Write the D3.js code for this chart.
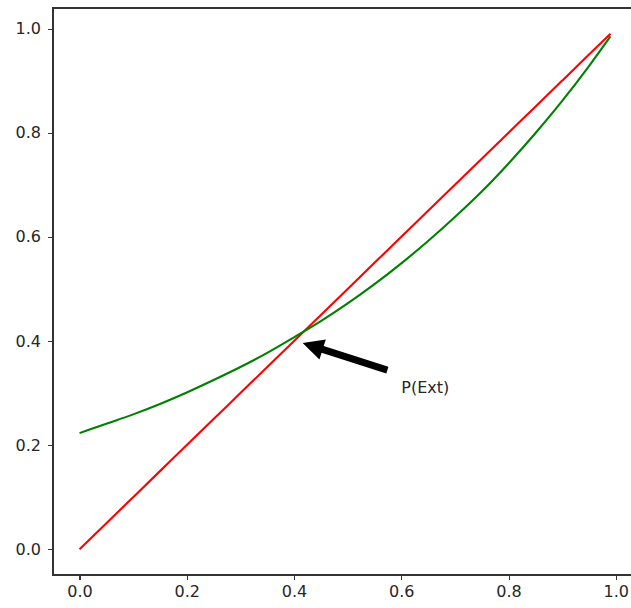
<!DOCTYPE html>
<meta charset="utf-8">
<style>
body { margin: 0; background: #fff; }
svg { display: block; }
.axis text { font: 16px "DejaVu Sans", sans-serif; fill: #262626; }
.axis line { stroke: #333; stroke-width: 1.1px; shape-rendering: crispEdges; }
.spine { stroke: #333; stroke-width: 1.1px; shape-rendering: crispEdges; }
.label { font: 16px "DejaVu Sans", sans-serif; fill: #262626; }
</style>
<body>
<svg id="chart" width="631" height="608"></svg>
<script src="https://cdn.jsdelivr.net/npm/d3@7"></script>
<script>

// s values on the x axis
var sValues = [0, 0.05, 0.1, 0.15, 0.2, 0.25, 0.3, 0.35, 0.4, 0.45, 0.5,
               0.55, 0.6, 0.65, 0.7, 0.75, 0.8, 0.85, 0.9, 0.95, 0.99];
// green curve
var genValues = [0.223, 0.241, 0.259, 0.279, 0.301, 0.325, 0.350, 0.377, 0.407, 0.438, 0.472,
                 0.509, 0.549, 0.592, 0.638, 0.687, 0.741, 0.799, 0.861, 0.928, 0.985];
// red line y = s
var diagValues = [0, 0.05, 0.1, 0.15, 0.2, 0.25, 0.3, 0.35, 0.4, 0.45, 0.5,
                  0.55, 0.6, 0.65, 0.7, 0.75, 0.8, 0.85, 0.9, 0.95, 0.99];

var xTicks = [0, 0.2, 0.4, 0.6, 0.8, 1.0];
var yTicks = [0, 0.2, 0.4, 0.6, 0.8, 1.0];

// annotation
var annotText = "P(Ext)";
var annotTextAt = [0.6, 0.3];
var arrowTip = [0.416, 0.396];
var arrowTail = [0.574, 0.344];

var svg = d3.select("#chart");
var mLeft = 53, mRight = 637, mTop = 8, mBottom = 575;

var x = d3.scaleLinear().domain([-0.0495, 1.0395]).range([mLeft, mRight]);
var y = d3.scaleLinear().domain([-0.0495, 1.0395]).range([mBottom, mTop]);

var line = d3.line().curve(d3.curveMonotoneX);

function series(ys) {
    return sValues.map(function(s, i) { return [x(s), y(ys[i])]; });
}

svg.append("path")
    .attr("d", line(series(diagValues)))
    .attr("fill", "none")
    .attr("stroke", "#ff0000")
    .attr("stroke-width", 2.1);

svg.append("path")
    .attr("d", line(series(genValues)))
    .attr("fill", "none")
    .attr("stroke", "#008000")
    .attr("stroke-width", 2.1);

// arrow
var tx = x(arrowTip[0]), ty = y(arrowTip[1]);
var bx = x(arrowTail[0]), by = y(arrowTail[1]);
var len = Math.hypot(tx - bx, ty - by);
var ux = (tx - bx) / len, uy = (ty - by) / len;
var px = -uy, py = ux;
var shaftW = 3.5, headW = 10.5, headL = 21;
var hx = tx - ux * headL, hy = ty - uy * headL;
var pts = [
    [bx + px * shaftW, by + py * shaftW],
    [hx + px * shaftW, hy + py * shaftW],
    [hx + px * headW, hy + py * headW],
    [tx, ty],
    [hx - px * headW, hy - py * headW],
    [hx - px * shaftW, hy - py * shaftW],
    [bx - px * shaftW, by - py * shaftW]
];
svg.append("polygon")
    .attr("points", pts.map(function(p) { return p.join(","); }).join(" "))
    .attr("fill", "#000");

svg.append("text")
    .attr("class", "label")
    .attr("x", x(annotTextAt[0]))
    .attr("y", y(annotTextAt[1]))
    .text(annotText);

// axes
var gx = svg.append("g")
    .attr("class", "axis")
    .attr("transform", "translate(0," + mBottom + ")")
    .call(d3.axisBottom(x).tickValues(xTicks).tickFormat(d3.format(".1f")).tickSize(5).tickPadding(6));
gx.select(".domain").remove();

var gy = svg.append("g")
    .attr("class", "axis")
    .attr("transform", "translate(" + mLeft + ",0)")
    .call(d3.axisLeft(y).tickValues(yTicks).tickFormat(d3.format(".1f")).tickSize(5).tickPadding(7));
gy.select(".domain").remove();

// spines
svg.append("rect")
    .attr("class", "spine")
    .attr("x", mLeft)
    .attr("y", mTop)
    .attr("width", mRight - mLeft)
    .attr("height", mBottom - mTop)
    .attr("fill", "none");

</script>
</body>
